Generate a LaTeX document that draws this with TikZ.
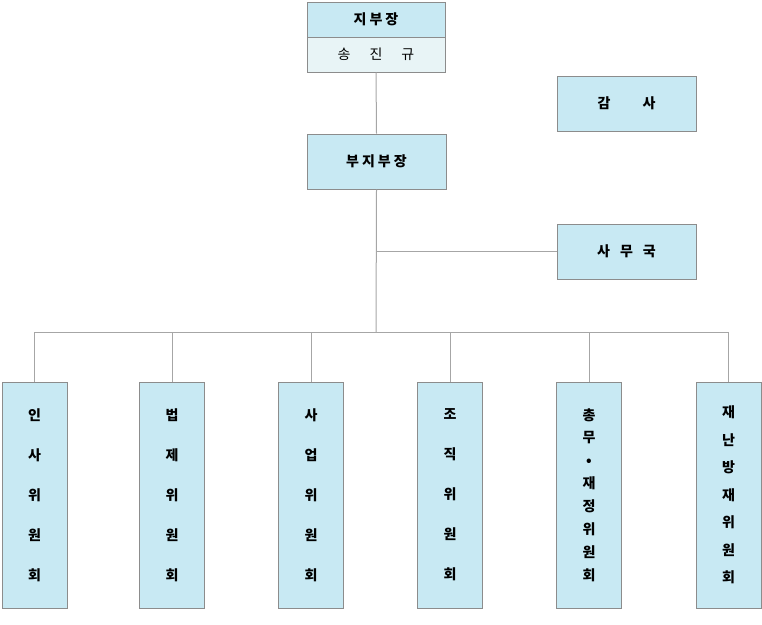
\documentclass[tikz,border=0pt]{standalone}
\usepackage{fontspec}
\setmainfont{Noto Sans CJK KR}
\definecolor{boxfill}{HTML}{C8E9F3}
\definecolor{subfill}{HTML}{E8F4F6}
\definecolor{boxline}{HTML}{8C8C8C}
\definecolor{connline}{HTML}{A6A6A6}
\newcommand{\vstack}[3]{\raisebox{#1}{\parbox[c]{20pt}{\centering\fontsize{14}{#2}\selectfont\bfseries #3}}}
\begin{document}
\begin{tikzpicture}[x=1pt,y=-1pt,
  box/.style={draw=boxline, fill=boxfill, line width=1pt, inner sep=0pt, font=\fontsize{14}{14}\selectfont\bfseries},
  subbox/.style={box, fill=subfill, font=\fontsize{14}{14}\selectfont},
  tallbox/.style={box, minimum width=65pt, minimum height=226pt, align=center},
  conn/.style={draw=connline, line width=1pt}]
\useasboundingbox (0,0) rectangle (762,624);
% top
\node[box, minimum width=138pt, minimum height=35pt] (head) at (376,19.5) {지\kern3pt부\kern3pt장};
\node[subbox, minimum width=138pt, minimum height=35pt] (name) at (376,54.5) {송\kern19pt진\kern19pt규};
\node[box, minimum width=139pt, minimum height=55pt] (vice) at (376.5,161.5) {부\kern3pt지\kern3pt부\kern3pt장};
\node[box, minimum width=139pt, minimum height=55pt] (audit) at (626.5,103.5) {감\kern32pt사};
\node[box, minimum width=139pt, minimum height=55pt] (office) at (626.5,251.5) {사\kern10pt무\kern10pt국};
% bottom
\node[tallbox] (b1) at (34.5,495) {\vstack{0pt}{40pt}{인\\사\\위\\원\\회}};
\node[tallbox] (b2) at (172,495) {\vstack{0pt}{40pt}{법\\제\\위\\원\\회}};
\node[tallbox] (b3) at (311,495) {\vstack{0pt}{40pt}{사\\업\\위\\원\\회}};
\node[tallbox] (b4) at (450,495) {\vstack{0pt}{40pt}{조\\직\\위\\원\\회}};
\node[tallbox] (b5) at (589,495) {\vstack{-5pt}{22.9pt}{총\\무\\•\\재\\정\\위\\원\\회}};
\node[tallbox] (b6) at (728.5,495) {\vstack{-2.5pt}{27.5pt}{재\\난\\방\\재\\위\\원\\회}};
% connectors
\coordinate (hub) at (376,332);
\draw[conn] (name.south) -- (vice.north);
\draw[conn] (vice.south) -- (hub);
\draw[conn] (office.west) -- (office.west -| hub);
\draw[conn] (b1.north) -- (b1.north |- hub) -- (b6.north |- hub) -- (b6.north);
\foreach \b in {b2,b3,b4,b5}{\draw[conn] (\b.north) -- (\b.north |- hub);}
\end{tikzpicture}
\end{document}
